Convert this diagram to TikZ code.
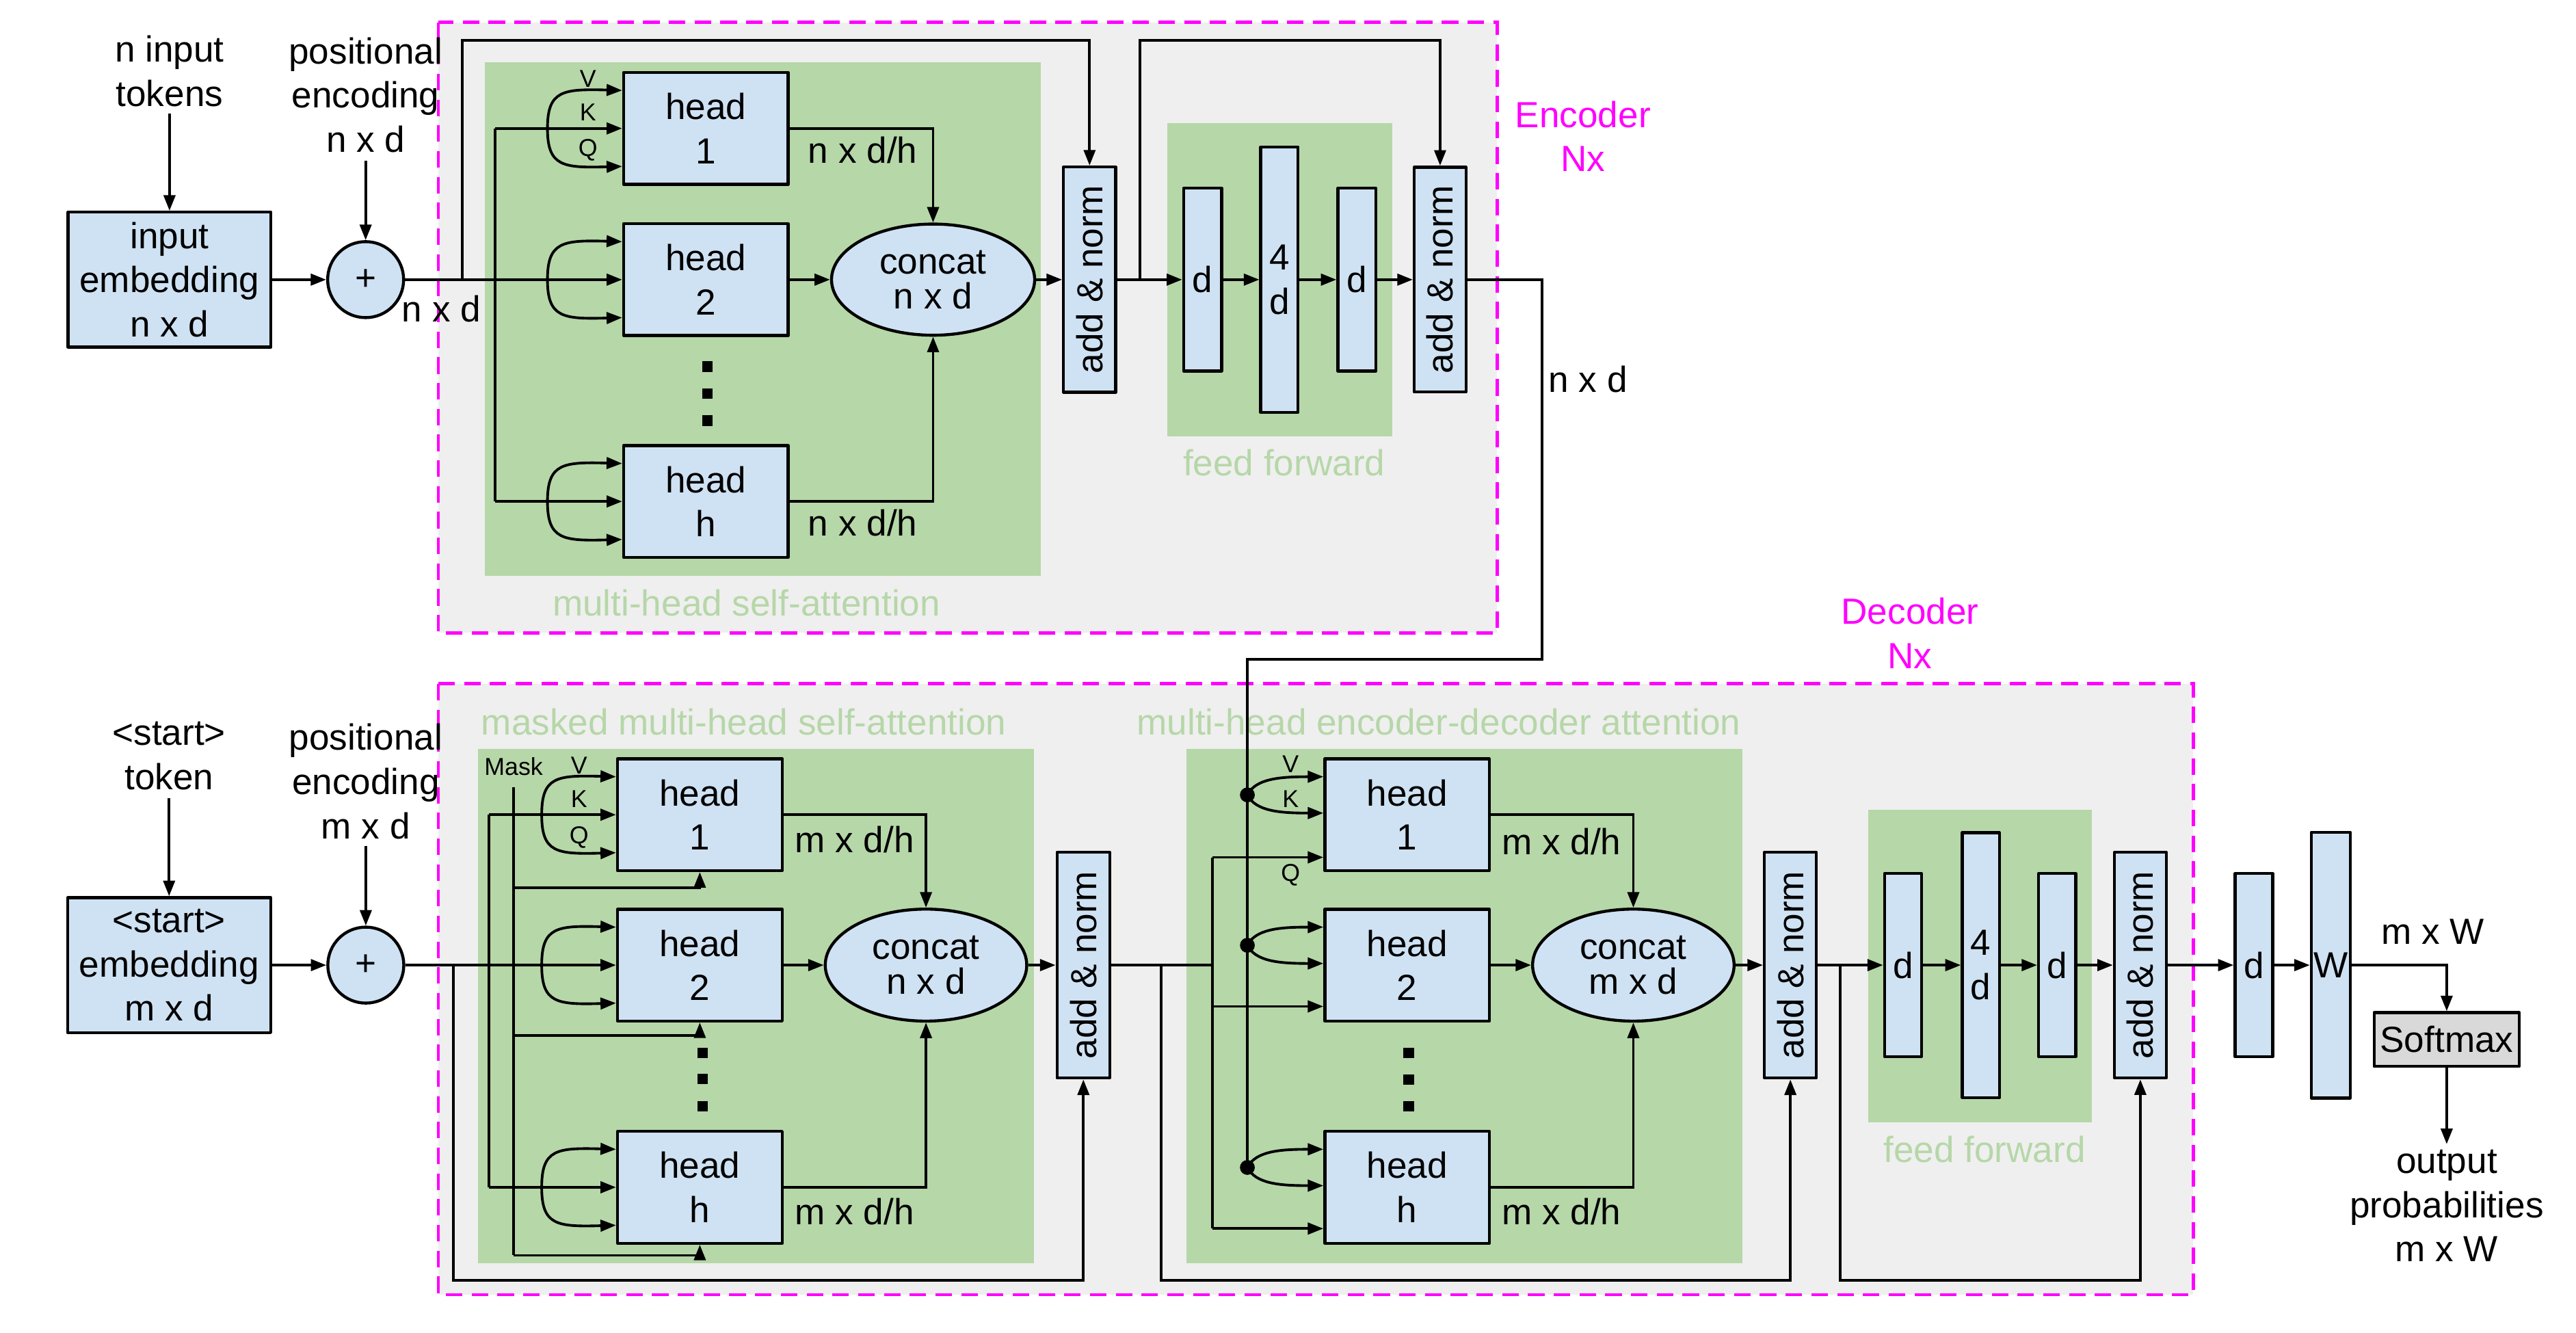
\documentclass[tikz,border=0pt]{standalone}
\usepackage{fontspec}
\setmainfont{Liberation Sans}
\usetikzlibrary{shapes.geometric,arrows.meta}
\definecolor{boxblue}{HTML}{CFE2F3}
\definecolor{grpgreen}{HTML}{B6D7A8}
\definecolor{bggray}{HTML}{EFEFEF}
\definecolor{magen}{HTML}{FF00FF}
\definecolor{smgray}{HTML}{D9D9D9}
\newcommand\bigf{\fontsize{11pt}{13.4pt}\selectfont}
\newcommand\ellf{\fontsize{11pt}{10.6pt}\selectfont}
\newcommand\smallf{\fontsize{7.4pt}{8.5pt}\selectfont}
\tikzset{
  ln/.style={line width=0.8pt},
  arr/.style={line width=0.8pt,-{Triangle[length=4.7pt,width=3.5pt]}},
  sz/.style 2 args={minimum width=#1*0.5pt,minimum height=#2*0.5pt},
  bx/.style={draw,line width=0.9pt,line join=round,fill=boxblue,inner sep=0pt,align=center,font=\bigf},
  ell/.style={ellipse,draw,line width=0.9pt,fill=boxblue,inner sep=0pt,align=center,font=\ellf},
  circ/.style={circle,draw,line width=0.9pt,fill=boxblue,inner sep=0pt,minimum size=23pt,font=\bigf},
  lbl/.style={inner sep=0pt,align=center,font=\bigf},
  sml/.style={inner sep=0pt,font=\smallf},
  glbl/.style={inner sep=0pt,font=\bigf,text=grpgreen},
  mlbl/.style={inner sep=0pt,align=center,font=\bigf,text=magen},
  outer/.style={draw=magen,fill=bggray,line width=1pt,dash pattern=on 5pt off 2.8pt},
  sq/.style={fill=black,inner sep=0pt,minimum size=3.2pt},
  jdot/.style={circle,fill=black,inner sep=0pt,minimum size=4.5pt},
  rot/.style={rotate=90,inner sep=0pt,font=\bigf},
}
\newcommand\bracketA[2]{%
  \draw[arr] (#1.west -| #2) .. controls +(0,-23) and +(-36,-1) .. ([yshift=11.5pt]#1.west);
  \draw[arr] (#1.west -| #2) .. controls +(0,23) and +(-36,1) .. ([yshift=-11.5pt]#1.west);}
\newcommand\bracketB[2]{%
  \draw[arr] (#2.center) .. controls +(5,-10) and +(-26,0) .. ([yshift=11.5pt]#1.west);
  \draw[arr] (#2.center) .. controls +(5,10) and +(-26,0) .. ([yshift=0.5pt]#1.west);}
\begin{document}
\begin{tikzpicture}[x=0.5pt,y=-0.5pt]
\fill[white] (0,0) rectangle (1559.8,807);
\useasboundingbox (0,0) rectangle (1559.8,807);
% ---------- backgrounds
\draw[outer] (265.4,13.5) rectangle (906.5,383.2);
\draw[outer] (265.4,414) rectangle (1328,783.8);
\fill[grpgreen] (293.5,37.6) rectangle (630.2,348.7);
\fill[grpgreen] (706.8,74.5) rectangle (843.1,264);
\fill[grpgreen] (289.5,453.3) rectangle (626.2,764.6);
\fill[grpgreen] (718.2,453.3) rectangle (1054.9,764.6);
\fill[grpgreen] (1131.2,490.2) rectangle (1266.8,679.6);
\node[glbl] at (452,365) {multi-head self-attention};
\node[glbl] at (777.5,280) {feed forward};
\node[glbl,anchor=west] at (291,437) {masked multi-head self-attention};
\node[glbl,anchor=west] at (688,437) {multi-head encoder-decoder attention};
\node[glbl] at (1201.7,696) {feed forward};
\node[mlbl] at (958.5,82.5) {Encoder\\Nx};
\node[mlbl] at (1156.5,383.2) {Decoder\\Nx};
% ---------- helper coordinates
\coordinate (ekx) at (299.7,0);
\coordinate (ebx) at (331.5,0);
\coordinate (er1) at (279.8,0);
\coordinate (er2) at (690.3,0);
\coordinate (etop) at (0,24.6);
\coordinate (dkx) at (296.2,0);
\coordinate (dbx) at (328,0);
\coordinate (mx) at (311,0);
\coordinate (dr1) at (274.7,0);
\coordinate (dr2) at (703.2,0);
\coordinate (dr3) at (1114.2,0);
\coordinate (dbot) at (0,775.1);
\coordinate (qx) at (734,0);
\coordinate (eo1) at (933.7,399.2);
% ================= ENCODER
\node[lbl] (tok) at (102.65,43) {n input\\tokens};
\node[bx,sz={122.9}{81.6}] (emb) at (102.65,169.3) {input\\embedding\\n x d};
\node[circ] (p1) at (221.4,169.3) {+};
\node[lbl] (pe1) at (221.4,57.5) {positional\\encoding\\n x d};
\draw[arr] ([yshift=-2pt]tok.south) -- (emb.north);
\draw[arr] ([yshift=-2.3pt]pe1.south) -- (p1.north);
\draw[arr] (emb) -- (p1);
\node[lbl,anchor=west] at (243,187) {n x d};
\node[bx,sz={99.6}{67.7}] (eh1) at (427.4,77.75) {head\\1};
\node[bx,sz={99.6}{67.7}] (eh2) at (427.4,169.3) {head\\2};
\node[bx,sz={99.6}{67.7}] (ehh) at (427.4,303.6) {head\\h};
\draw[arr] (p1) -- (eh2);
\draw[ln] (eh1.west -| ekx) -- (ehh.west -| ekx);
\draw[arr] (eh1.west -| ekx) -- (eh1.west);
\draw[arr] (ehh.west -| ekx) -- (ehh.west);
\bracketA{eh1}{ebx}
\bracketA{eh2}{ebx}
\bracketA{ehh}{ebx}
\node[sml] at (356,47.7) {V};
\node[sml] at (356,68.2) {K};
\node[sml] at (356,90.8) {Q};
\foreach \yy in {222,238.4,254.7} \node[sq] at (428.4,\yy) {};
\node[ell,sz={123}{67.3}] (ec) at (565,169.3) {concat\\n x d};
\draw[arr] (eh1.east) -| (ec.north);
\draw[arr] (ehh.east) -| (ec.south);
\draw[arr] (eh2) -- (ec);
\node[lbl,anchor=west] at (489,90.8) {n x d/h};
\node[lbl,anchor=west] at (489,316.6) {n x d/h};
\node[bx,sz={31.5}{136.4}] (an1) at (659.75,169.3) {};
\node[rot] at (an1) {add \& norm};
\draw[arr] (ec) -- (an1);
\draw[arr] (p1.east -| er1) |- (an1.north |- etop) -- (an1.north);
\node[bx,sz={23}{110.6}] (ed1) at (728.2,169.3) {d};
\node[bx,sz={22.6}{160.8}] (ed4) at (774.7,169.3) {4\\d};
\node[bx,sz={23}{110.6}] (ed2) at (821.6,169.3) {d};
\node[bx,sz={31.3}{136.2}] (an2) at (872,169.3) {};
\node[rot] at (an2) {add \& norm};
\draw[arr] (an1) -- (ed1);
\draw[arr] (ed1) -- (ed4);
\draw[arr] (ed4) -- (ed2);
\draw[arr] (ed2) -- (an2);
\draw[arr] (an1.east -| er2) |- (an2.north |- etop) -- (an2.north);
\node[lbl,anchor=west] at (937.3,229.5) {n x d};
% ================= DECODER
\node[lbl] (tok2) at (102.4,457.6) {<start>\\token};
\node[bx,sz={123}{81.7}] (emb2) at (102.4,584.3) {<start>\\embedding\\m x d};
\node[circ] (p2) at (221.5,584.3) {+};
\node[lbl] (pe2) at (221.5,473) {positional\\encoding\\m x d};
\draw[arr] ([yshift=-2.2pt]tok2.south) -- (emb2.north);
\draw[arr] ([yshift=-2pt]pe2.south) -- (p2.north);
\draw[arr] (emb2) -- (p2);
% masked self-attention
\node[bx,sz={99.7}{67.7}] (dh1) at (423.75,493.25) {head\\1};
\node[bx,sz={99.7}{67.7}] (dh2) at (423.75,584.3) {head\\2};
\node[bx,sz={99.7}{67.7}] (dhh) at (423.75,718.8) {head\\h};
\draw[arr] (p2) -- (dh2);
\draw[ln] (dh1.west -| dkx) -- (dhh.west -| dkx);
\draw[arr] (dh1.west -| dkx) -- (dh1.west);
\draw[arr] (dhh.west -| dkx) -- (dhh.west);
\bracketA{dh1}{dbx}
\bracketA{dh2}{dbx}
\bracketA{dhh}{dbx}
\node[sml] at (350.6,463.3) {V};
\node[sml] at (350.6,483.6) {K};
\node[sml] at (350.6,506.8) {Q};
\node[sml] (mask) at (311,464) {Mask};
\draw[ln] (mx |- 0,476.7) -- (mx |- 0,760);
\draw[arr] (mx |- 0,537.4) -| (dh1.south);
\draw[arr] (mx |- 0,626.8) -| (dh2.south);
\draw[arr] (mx |- 0,760) -| (dhh.south);
\foreach \yy in {637.4,653.2,669.7} \node[sq] at (425.5,\yy) {};
\node[ell,sz={122}{67.8}] (dc) at (560.7,584.3) {concat\\n x d};
\draw[arr] (dh1.east) -| (dc.north);
\draw[arr] (dhh.east) -| (dc.south);
\draw[arr] (dh2) -- (dc);
\node[lbl,anchor=west] at (481,508.2) {m x d/h};
\node[lbl,anchor=west] at (481,733.7) {m x d/h};
\node[bx,sz={31.9}{136.7}] (an3) at (656,584.3) {};
\node[rot] at (an3) {add \& norm};
\draw[arr] (dc) -- (an3);
\draw[arr] (p2.east -| dr1) |- (an3.south |- dbot) -- (an3.south);
% encoder-decoder attention
\node[bx,sz={99.6}{67.7}] (xh1) at (852,493.25) {head\\1};
\node[bx,sz={99.6}{67.7}] (xh2) at (852,584.3) {head\\2};
\node[bx,sz={99.6}{67.7}] (xhh) at (852,718.8) {head\\h};
\coordinate (q1) at ([yshift=-12.9pt]xh1.west);
\coordinate (q2) at ([yshift=-12.5pt]xh2.west);
\coordinate (qh) at ([yshift=-12.5pt]xhh.west);
\node[jdot] (xd1) at (755.3,481.25) {};
\node[jdot] (xd2) at (755.3,572.3) {};
\node[jdot] (xdh) at (755.3,706.8) {};
\draw[ln] (an2.east) -| (eo1) -| (xdh.center);
\bracketB{xh1}{xd1}
\bracketB{xh2}{xd2}
\bracketB{xhh}{xdh}
\draw[ln] (an3.east) -- (an3.east -| qx);
\draw[ln] (q1 -| qx) -- (qh -| qx);
\draw[arr] (q1 -| qx) -- (q1);
\draw[arr] (q2 -| qx) -- (q2);
\draw[arr] (qh -| qx) -- (qh);
\node[sml] at (781.5,462.5) {V};
\node[sml] at (781.5,483.6) {K};
\node[sml] at (781.5,529.8) {Q};
\foreach \yy in {637.4,653.6,669.8} \node[sq] at (852.9,\yy) {};
\node[ell,sz={122}{67.8}] (xc) at (989,584.3) {concat\\m x d};
\draw[arr] (xh1.east) -| (xc.north);
\draw[arr] (xhh.east) -| (xc.south);
\draw[arr] (xh2) -- (xc);
\node[lbl,anchor=west] at (909,509.5) {m x d/h};
\node[lbl,anchor=west] at (909,733.7) {m x d/h};
\node[bx,sz={31.4}{136.7}] (an4) at (1084.1,584.3) {};
\node[rot] at (an4) {add \& norm};
\draw[arr] (xc) -- (an4);
\draw[arr] (an3.east -| dr2) |- (an4.south |- dbot) -- (an4.south);
% feed forward
\node[bx,sz={22.4}{110.8}] (fd1) at (1152.3,584.3) {d};
\node[bx,sz={22.5}{160.4}] (fd4) at (1199.45,584.3) {4\\d};
\node[bx,sz={22.5}{110.8}] (fd2) at (1245.65,584.3) {d};
\node[bx,sz={31.5}{136.6}] (an5) at (1296,584.3) {};
\node[rot] at (an5) {add \& norm};
\draw[arr] (an4) -- (fd1);
\draw[arr] (fd1) -- (fd4);
\draw[arr] (fd4) -- (fd2);
\draw[arr] (fd2) -- (an5);
\draw[arr] (an4.east -| dr3) |- (an5.south |- dbot) -- (an5.south);
% output
\node[bx,sz={22.8}{110.9}] (od) at (1364.8,584.3) {d};
\node[bx,sz={23.6}{160.9}] (ow) at (1411.3,584.3) {W};
\draw[arr] (an5) -- (od);
\draw[arr] (od) -- (ow);
\node[bx,fill=smgray,sz={87.9}{32.5}] (sm) at (1481.5,629.35) {Softmax};
\draw[arr] (ow.east) -| (sm.north);
\node[lbl] at (1473,564) {m x W};
\node[lbl,inner sep=1.5pt] (outp) at (1481.5,730) {output\\probabilities\\m x W};
\draw[arr] (sm.south) -- (outp.north);
\end{tikzpicture}
\end{document}
